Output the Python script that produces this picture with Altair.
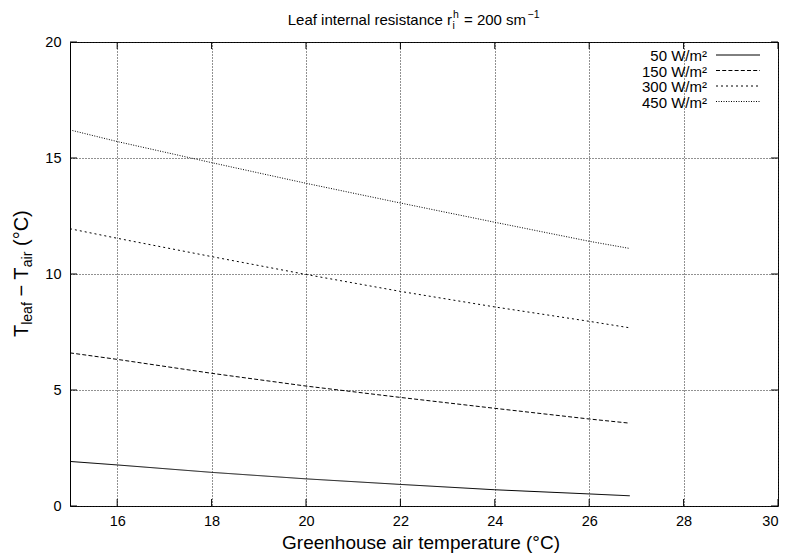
import altair as alt
import pandas as pd

# ---- data ----
x_air = [15, 16, 18, 20, 22, 24, 26, 26.86]
dt_50 = [1.92, 1.77, 1.45, 1.17, 0.93, 0.70, 0.52, 0.44]
dt_150 = [6.60, 6.32, 5.72, 5.17, 4.68, 4.21, 3.75, 3.57]
dt_300 = [11.95, 11.54, 10.75, 9.98, 9.25, 8.58, 7.96, 7.68]
dt_450 = [16.21, 15.71, 14.80, 13.91, 13.06, 12.23, 11.41, 11.10]
series_labels = ["50 W/m²", "150 W/m²", "300 W/m²", "450 W/m²"]
series_values = [dt_50, dt_150, dt_300, dt_450]
series_dash = [[1, 0], [4, 2.2], [2, 3], [1, 1.5]]

x_ticks = [16, 18, 20, 22, 24, 26, 28, 30]
y_ticks = [0, 5, 10, 15, 20]

W, H = 708, 464
FONT = "Liberation Sans"

rows = []
for lab, vals in zip(series_labels, series_values):
    for xv, yv in zip(x_air, vals):
        rows.append({"series": lab, "x": xv, "y": yv})
df = pd.DataFrame(rows)

xscale = alt.Scale(domain=[15, 30], nice=False, zero=False)
yscale = alt.Scale(domain=[0, 20], nice=False, zero=False)

common_axis = dict(title=None, grid=True, gridDash=[1, 2], gridColor="#222222",
                   gridOpacity=1, ticks=False, tickSize=0, domain=False,
                   labelFontSize=14.5, labelFont=FONT, labelColor="black",
                   labelOverlap=False)
xaxis = alt.Axis(values=x_ticks, labelPadding=8, labelFlush=True, **common_axis)
yaxis = alt.Axis(values=y_ticks, labelPadding=9, labelFlush=False, **common_axis)

lines = alt.Chart(df).mark_line(color="black", strokeWidth=1, clip=True).encode(
    x=alt.X("x:Q", scale=xscale, axis=xaxis),
    y=alt.Y("y:Q", scale=yscale, axis=yaxis),
    strokeDash=alt.StrokeDash("series:N",
                              scale=alt.Scale(domain=series_labels, range=series_dash),
                              legend=None),
    detail="series:N",
)

# inward, mirrored tick marks (gnuplot style)
xt = pd.DataFrame({"x": x_ticks})
yt = pd.DataFrame({"y": y_ticks})
tick_b = alt.Chart(xt).mark_rule(color="black").encode(
    x=alt.X("x:Q", scale=xscale, axis=xaxis), y=alt.value(H), y2=alt.value(H - 7))
tick_t = alt.Chart(xt).mark_rule(color="black").encode(
    x=alt.X("x:Q", scale=xscale, axis=xaxis), y=alt.value(0), y2=alt.value(7))
tick_l = alt.Chart(yt).mark_rule(color="black").encode(
    y=alt.Y("y:Q", scale=yscale, axis=yaxis), x=alt.value(0), x2=alt.value(7))
tick_r = alt.Chart(yt).mark_rule(color="black").encode(
    y=alt.Y("y:Q", scale=yscale, axis=yaxis), x=alt.value(W), x2=alt.value(W - 7))

one = pd.DataFrame({"k": [0]})


def txt(s, x, y, size, align="left", angle=0, baseline="alphabetic"):
    return alt.Chart(one).mark_text(text=s, font=FONT, fontSize=size, color="black",
                                    align=align, baseline=baseline, angle=angle).encode(
        x=alt.value(x), y=alt.value(y))


texts = [
    # title
    txt("Leaf internal resistance r", 382, -17, 15, align="right"),
    txt("i", 382.5, -13, 10.5),
    txt("h", 383, -24, 10.5),
    txt("= 200 sm", 394, -17, 15),
    txt("−1", 457.5, -24, 10.5),
    # x title
    txt("Greenhouse air temperature (°C)", 351, 507, 19, align="center"),
    # y title (rotated)
    txt("T", -42, 295, 20, angle=270),
    txt("leaf", -38, 282.8, 14, angle=270),
    txt("− T", -42, 254.6, 20, angle=270),
    txt("air", -38, 225.2, 14, angle=270),
    txt("(°C)", -42, 204, 20, angle=270),
]

legend = []
for i, (lab, dash) in enumerate(zip(series_labels, series_dash)):
    yy = 13 + 15.5 * i
    legend.append(txt(lab, 637, yy + 1, 15, align="right", baseline="middle"))
    legend.append(alt.Chart(one).mark_rule(color="black", strokeWidth=1, strokeDash=dash).encode(
        x=alt.value(646), x2=alt.value(690), y=alt.value(yy)))

chart = alt.layer(lines, tick_b, tick_t, tick_l, tick_r, *texts, *legend).properties(
    width=W, height=H,
    autosize=alt.AutoSizeParams(type="none"),
    padding={"left": 62, "top": 34, "right": 2, "bottom": 47},
    background="white",
).configure_view(stroke="black", strokeWidth=1)

chart.save("out.html", embed_options={"renderer": "svg", "actions": False})
